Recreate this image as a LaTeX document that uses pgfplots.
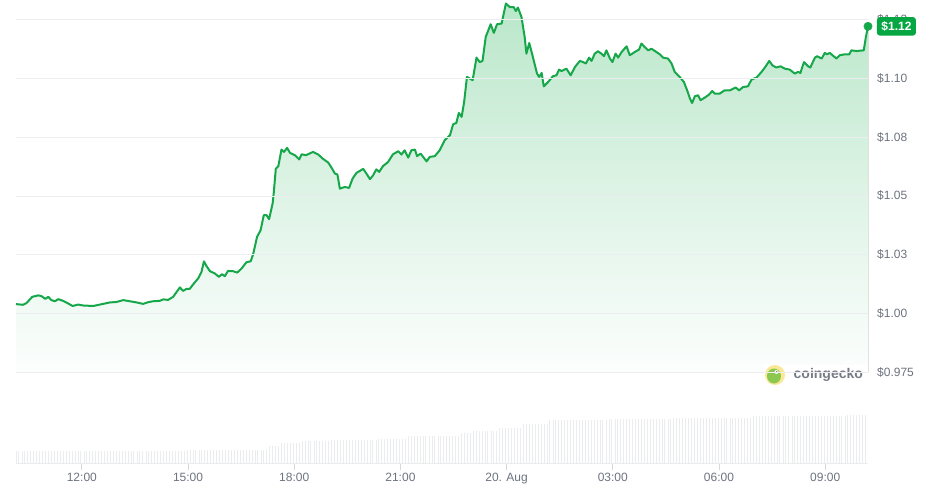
\documentclass[border=0pt]{standalone}
\usepackage{fontspec}
\setmainfont{Liberation Sans}
\usepackage{pgfplots}
\usepackage{pgfplotstable}
\pgfplotsset{compat=1.18}
\usepgfplotslibrary{fillbetween}

\definecolor{linegreen}{RGB}{22,167,74}
\definecolor{boxgreen}{RGB}{6,166,66}
\definecolor{gridgray}{RGB}{236,237,240}
\definecolor{labelgray}{RGB}{108,114,126}
\definecolor{volgray}{RGB}{234,236,238}
\definecolor{tickgray}{RGB}{214,217,221}
\definecolor{filltop}{RGB}{186,231,202}
\definecolor{fillmid}{RGB}{221,243,229}
\definecolor{fillbot}{RGB}{252,254,253}
\definecolor{logoyellow}{RGB}{250,232,150}
\definecolor{logogreen}{RGB}{140,200,80}
\definecolor{logogray}{RGB}{118,122,133}

\pgfplotstableread{
h p
10.14 1.0040
10.34 1.0037
10.44 1.0045
10.60 1.0071
10.77 1.0077
10.86 1.0074
10.97 1.0062
11.05 1.0071
11.14 1.0057
11.24 1.0052
11.33 1.0061
11.47 1.0054
11.61 1.0043
11.74 1.0032
11.90 1.0038
12.04 1.0034
12.32 1.0032
12.51 1.0038
12.79 1.0047
12.98 1.0049
13.17 1.0057
13.36 1.0052
13.55 1.0047
13.73 1.0041
13.87 1.0048
14.01 1.0052
14.20 1.0054
14.30 1.0060
14.44 1.0058
14.58 1.0071
14.68 1.0092
14.77 1.0111
14.86 1.0096
14.96 1.0105
15.05 1.0105
15.14 1.0123
15.29 1.0150
15.38 1.0177
15.45 1.0222
15.52 1.0202
15.62 1.0180
15.76 1.0170
15.87 1.0156
15.96 1.0167
16.04 1.0159
16.13 1.0181
16.27 1.0180
16.39 1.0174
16.51 1.0191
16.65 1.0218
16.77 1.0222
16.84 1.0252
16.95 1.0326
17.05 1.0354
17.14 1.0418
17.22 1.0418
17.29 1.0401
17.39 1.0468
17.42 1.0510
17.48 1.0616
17.55 1.0626
17.64 1.0697
17.71 1.0687
17.80 1.0704
17.88 1.0683
18.02 1.0673
18.14 1.0655
18.21 1.0677
18.33 1.0673
18.53 1.0687
18.68 1.0676
18.80 1.0659
18.96 1.0642
19.07 1.0616
19.15 1.0595
19.22 1.0591
19.29 1.0531
19.43 1.0538
19.55 1.0534
19.65 1.0574
19.76 1.0598
19.95 1.0615
20.04 1.0595
20.14 1.0571
20.23 1.0588
20.32 1.0613
20.40 1.0602
20.51 1.0627
20.65 1.0644
20.79 1.0677
20.94 1.0690
21.03 1.0676
21.12 1.0694
21.22 1.0663
21.31 1.0694
21.41 1.0697
21.47 1.0669
21.57 1.0680
21.74 1.0647
21.83 1.0666
21.97 1.0669
22.11 1.0694
22.25 1.0737
22.40 1.0758
22.49 1.0805
22.58 1.0810
22.65 1.0853
22.73 1.0836
22.80 1.0899
22.88 1.1006
23.04 1.0992
23.15 1.1088
23.24 1.1069
23.32 1.1074
23.41 1.1176
23.55 1.1230
23.64 1.1193
23.73 1.1230
23.86 1.1233
23.98 1.1318
24.09 1.1303
24.20 1.1303
24.26 1.1286
24.32 1.1301
24.42 1.1261
24.51 1.1176
24.56 1.1105
24.64 1.1150
24.73 1.1098
24.86 1.1020
24.92 1.1006
24.99 1.1023
25.05 1.0966
25.17 1.0984
25.31 1.1009
25.41 1.1013
25.48 1.1037
25.55 1.1031
25.69 1.1041
25.81 1.1013
25.93 1.1048
26.07 1.1074
26.16 1.1069
26.24 1.1063
26.33 1.1088
26.40 1.1074
26.49 1.1105
26.58 1.1115
26.68 1.1105
26.75 1.1094
26.82 1.1119
26.92 1.1084
26.99 1.1069
27.08 1.1105
27.15 1.1088
27.25 1.1112
27.39 1.1136
27.48 1.1098
27.62 1.1112
27.74 1.1122
27.81 1.1148
27.90 1.1133
28.00 1.1119
28.09 1.1126
28.23 1.1112
28.33 1.1102
28.42 1.1088
28.56 1.1084
28.66 1.1063
28.75 1.1027
28.89 1.1006
29.01 1.0984
29.10 1.0949
29.18 1.0914
29.24 1.0895
29.32 1.0924
29.41 1.0928
29.48 1.0907
29.60 1.0918
29.72 1.0931
29.81 1.0946
29.88 1.0935
30.02 1.0935
30.16 1.0949
30.31 1.0949
30.47 1.0961
30.57 1.0949
30.68 1.0963
30.82 1.0966
30.92 1.0995
31.06 1.1003
31.20 1.1027
31.32 1.1051
31.42 1.1074
31.51 1.1055
31.62 1.1046
31.74 1.1051
31.86 1.1041
32.00 1.1037
32.14 1.1020
32.23 1.1027
32.30 1.1023
32.40 1.1069
32.52 1.1051
32.58 1.1046
32.71 1.1088
32.77 1.1094
32.90 1.1084
32.99 1.1108
33.05 1.1102
33.13 1.1108
33.24 1.1094
33.32 1.1084
33.41 1.1098
33.55 1.1102
33.68 1.1102
33.74 1.1119
33.88 1.1116
34.09 1.1119
34.15 1.1176
34.21 1.1221
}\pricetable

\begin{document}
\begin{tikzpicture}
% ---- volume panel ----
\begin{axis}[
  at={(16pt,28pt)}, anchor=south west,
  scale only axis, width=852pt, height=50pt,
  xmin=10.14, xmax=34.21, ymin=0, ymax=50,
  axis x line*=bottom, axis y line=none,
  x axis line style={draw=volgray, line width=0.6pt},
  xtick={12,15,18,21,24,27,30,33},
  xticklabels={12:00,15:00,18:00,21:00,20. Aug,03:00,06:00,09:00},
  tick align=outside, major tick length=7pt,
  xtick style={draw=tickgray, line width=0.8pt},
  xticklabel style={font=\fontsize{12}{14}\selectfont, text=labelgray},
  ytick=\empty, clip=false,
]
\addplot[ycomb, draw=volgray, line width=0.8pt, mark=none] coordinates {
(10.14,11.7)(10.22,11.7)(10.31,11.7)(10.39,11.7)(10.47,11.7)(10.56,11.7)(10.64,11.7)(10.72,11.7)(10.81,11.7)(10.89,11.7)(10.97,11.7)(11.06,11.7)
(11.14,11.7)(11.22,11.7)(11.31,11.7)(11.39,11.7)(11.47,11.7)(11.56,11.7)(11.64,11.7)(11.72,11.7)(11.81,11.7)(11.89,11.7)(11.97,11.7)(12.06,11.7)
(12.14,11.7)(12.22,11.7)(12.31,11.7)(12.39,11.7)(12.47,11.7)(12.56,11.7)(12.64,11.7)(12.72,11.7)(12.81,11.7)(12.89,11.7)(12.97,11.7)(13.06,11.7)
(13.14,11.7)(13.22,11.7)(13.31,11.7)(13.39,11.7)(13.47,11.7)(13.56,11.7)(13.64,11.7)(13.72,11.7)(13.81,11.7)(13.89,11.7)(13.97,11.7)(14.06,11.7)
(14.14,11.7)(14.22,11.7)(14.31,11.7)(14.39,11.7)(14.47,11.7)(14.56,11.7)(14.64,11.7)(14.72,11.7)(14.81,11.7)(14.89,11.7)(14.97,13.3)(15.06,13.3)
(15.14,13.3)(15.22,13.3)(15.31,13.3)(15.39,13.3)(15.47,13.3)(15.56,13.3)(15.64,13.3)(15.72,13.3)(15.81,13.3)(15.89,13.3)(15.97,13.3)(16.06,13.3)
(16.14,13.3)(16.22,13.3)(16.31,13.3)(16.39,13.3)(16.47,13.3)(16.56,13.3)(16.64,13.3)(16.72,13.3)(16.81,13.3)(16.89,13.3)(16.97,13.3)(17.06,13.3)
(17.14,13.3)(17.22,13.3)(17.31,16.7)(17.39,16.7)(17.47,16.7)(17.56,16.7)(17.64,20)(17.72,20)(17.81,20)(17.89,20)(17.97,20)(18.06,20)
(18.14,20)(18.22,21.7)(18.31,21.7)(18.39,21.7)(18.47,21.7)(18.56,21.7)(18.64,21.7)(18.72,21.7)(18.81,21.7)(18.89,21.7)(18.97,21.7)(19.06,23.3)
(19.14,23.3)(19.22,23.3)(19.31,23.3)(19.39,23.3)(19.47,23.3)(19.56,23.3)(19.64,23.3)(19.72,23.3)(19.81,23.3)(19.89,23.3)(19.97,23.3)(20.06,23.3)
(20.14,23.3)(20.22,23.3)(20.31,23.3)(20.39,24.3)(20.47,24.3)(20.56,24.3)(20.64,24.3)(20.72,24.3)(20.81,24.3)(20.89,24.3)(20.97,24.3)(21.06,24.3)
(21.14,24.3)(21.22,26.7)(21.31,26.7)(21.39,26.7)(21.47,26.7)(21.56,26.7)(21.64,26.7)(21.72,26.7)(21.81,26.7)(21.89,26.7)(21.97,26.7)(22.06,26.7)
(22.14,26.7)(22.22,26.7)(22.31,26.7)(22.39,27.3)(22.47,27.3)(22.56,27.3)(22.64,27.3)(22.72,30)(22.81,30)(22.89,30)(22.97,30)(23.06,31.7)
(23.14,31.7)(23.22,31.7)(23.31,31.7)(23.39,31.7)(23.47,31.7)(23.56,31.7)(23.64,31.7)(23.72,31.7)(23.81,35)(23.89,35)(23.97,35)(24.06,35)
(24.14,35)(24.22,35)(24.31,35)(24.39,35)(24.47,39.3)(24.56,39.3)(24.64,39.3)(24.72,39.3)(24.81,39.3)(24.89,39.3)(24.97,39.3)(25.06,39.3)
(25.14,39.3)(25.22,42.7)(25.31,42.7)(25.39,42.7)(25.47,42.7)(25.56,42.7)(25.64,42.7)(25.72,42.7)(25.81,42.7)(25.89,42.7)(25.97,42.7)(26.06,42.7)
(26.14,42.7)(26.22,42.7)(26.31,42.7)(26.39,42.7)(26.47,42.7)(26.56,42.7)(26.64,42.7)(26.72,42.7)(26.81,42.7)(26.89,44.3)(26.97,44.3)(27.06,44.3)
(27.14,44.3)(27.22,44.3)(27.31,44.3)(27.39,44.3)(27.47,44.3)(27.56,44.3)(27.64,44.3)(27.72,44.3)(27.81,44.3)(27.89,44.3)(27.97,44.3)(28.06,44.3)
(28.14,44.3)(28.22,44.3)(28.31,44.3)(28.39,44.3)(28.47,44.3)(28.56,44.3)(28.64,44.3)(28.72,45.3)(28.81,45.3)(28.89,45.3)(28.97,45.3)(29.06,45.3)
(29.14,45.3)(29.22,45.3)(29.31,45.3)(29.39,45.3)(29.47,45.3)(29.56,45.3)(29.64,45.3)(29.72,45.3)(29.81,45.3)(29.89,45.3)(29.97,45.3)(30.06,45.3)
(30.14,45.3)(30.22,45.3)(30.31,45.3)(30.39,45.3)(30.47,45.3)(30.56,45.3)(30.64,45.3)(30.72,45.3)(30.81,45.3)(30.89,45.3)(30.97,47)(31.06,47)
(31.14,47)(31.22,47)(31.31,47)(31.39,47)(31.47,47)(31.56,47)(31.64,47)(31.72,47)(31.81,47)(31.89,47)(31.97,47)(32.06,47)
(32.14,47)(32.22,47)(32.31,47)(32.39,47)(32.47,47)(32.56,47)(32.64,47)(32.72,47)(32.81,47)(32.89,47)(32.97,47)(33.06,47)
(33.14,47)(33.22,47)(33.31,47)(33.39,47)(33.47,47)(33.56,47)(33.64,48)(33.72,48)(33.81,48)(33.89,48)(33.97,48)(34.06,48)
(34.14,48)
};
\end{axis}

% ---- price panel ----
\begin{axis}[
  at={(16pt,118.7pt)}, anchor=south west,
  scale only axis, width=852pt, height=372.3pt,
  xmin=10.14, xmax=34.21, ymin=0.975, ymax=1.1333,
  axis x line=none, axis y line*=right,
  y axis line style={draw=none},
  xtick=\empty,
  ytick={0.975,1,1.025,1.05,1.075,1.1,1.125},
  yticklabels={\$0.975,\$1.00,\$1.03,\$1.05,\$1.08,\$1.10,\$1.13},
  major tick length=0pt, ytick style={draw=none},
  ymajorgrids, grid style={draw=gridgray, line width=0.8pt},
  yticklabel style={anchor=west, xshift=9pt, inner xsep=0pt,
    font=\fontsize{12}{14}\selectfont, text=labelgray},
  axis on top, clip=false,
]
\addplot[draw=none, name path=base, forget plot] coordinates {(10.14,0.975)(34.21,0.975)};
\addplot[draw=none, name path=price, forget plot] table[x=h,y=p]{\pricetable};
\addplot[top color=filltop, bottom color=fillbot, middle color=fillmid, draw=none]
  fill between[of=price and base];
\addplot[draw=linegreen, line width=2pt, line join=round, mark=none] table[x=h,y=p]{\pricetable};
\addplot[only marks, mark=*, mark size=4.2pt, color=linegreen] coordinates {(34.21,1.1221)};
\coordinate (endpt) at (axis cs:34.21,1.1221);
\end{axis}

% price badge
\node[fill=boxgreen, rounded corners=3pt, text=white, anchor=west,
  font=\bfseries\fontsize{12}{14}\selectfont, inner xsep=4.5pt, inner ysep=0pt,
  minimum height=18.5pt] at ([xshift=8.7pt]endpt) {\$1.12};

% watermark logo
\fill[white] (763pt,106pt) rectangle (867pt,126pt);
\fill[logoyellow] (775pt,116pt) circle (10pt);
\fill[logogreen] (774pt,115pt) ellipse (7pt and 7.5pt);
\fill[white] (776.5pt,119pt) circle (2pt);
\fill[black!70] (776.8pt,119pt) circle (0.9pt);
\node[anchor=west, inner sep=0pt, font=\bfseries\fontsize{14}{16}\selectfont, text=logogray]
  at (793.5pt,116pt) {coingecko};

\pgfresetboundingbox
\path[use as bounding box] (0,0) rectangle (931pt,491pt);
\end{tikzpicture}
\end{document}
